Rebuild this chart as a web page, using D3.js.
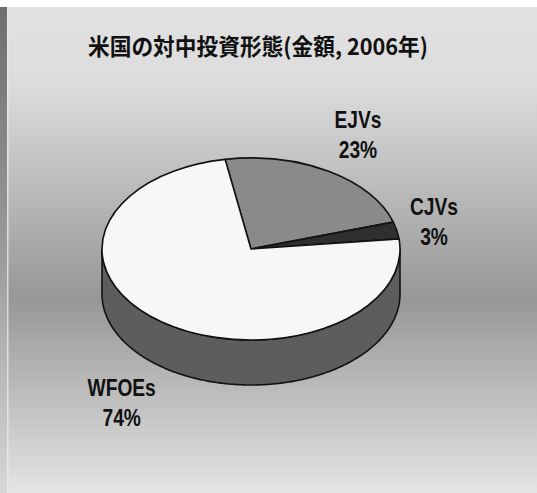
<!DOCTYPE html>
<html>
<head>
<meta charset="utf-8">
<script src="https://cdn.jsdelivr.net/npm/d3@7"></script>
<style>
  html, body { margin: 0; padding: 0; background: #ffffff; }
  svg { display: block; }
</style>
</head>
<body>
<svg id="chart" width="537" height="493"></svg>
<script>
// Investment form shares (by amount, 2006)
const title = "米国の対中投資形態(金額, 2006年)";
const categories = ["EJVs", "CJVs", "WFOEs"];
const shares = [23, 3, 74];

const W = 537, H = 493;
const frameTop = 7, stripW = 7;
const cx = 251, cy = 249;        // centre of the pie's top face
const rx = 149, ry = 91;         // ellipse radii of the tilted disc
const depth = 45;                // thickness of the disc
const startDeg = -10;            // first slice begins just left of 12 o'clock
const labelRadius = 1.22;        // label anchor, as a fraction of the radius
const labelRight = 458;          // labels are kept inside the plot area
const condense = 0.8;            // horizontal squeeze of the label font

const topColor = d3.scaleOrdinal(categories, ["#8a8a8a", "#2f2f2f", "#f7f7f7"]);
const sideColor = d3.scaleOrdinal(categories, ["#555555", "#1e1e1e", "#5d5d5d"]);
const edge = "#121212";

const svg = d3.select("#chart");
const defs = svg.append("defs");

// vertical background gradient of the chart area
const bg = defs.append("linearGradient").attr("id", "bg")
  .attr("x1", 0).attr("y1", 0).attr("x2", 0).attr("y2", 1);
[[0, "#e2e2e2"], [0.16, "#dcdcdc"], [0.6, "#979797"], [1, "#e4e4e4"]]
  .forEach(([o, c]) => bg.append("stop").attr("offset", o).attr("stop-color", c));

const strip = defs.append("linearGradient").attr("id", "strip")
  .attr("x1", 0).attr("y1", 0).attr("x2", 0).attr("y2", 1);
[[0, "#6e6e6e"], [0.5, "#9a9a9a"], [1, "#d6d6d6"]]
  .forEach(([o, c]) => strip.append("stop").attr("offset", o).attr("stop-color", c));

svg.append("rect").attr("x", 0).attr("y", frameTop)
  .attr("width", W).attr("height", H - frameTop).attr("fill", "url(#bg)");
svg.append("rect").attr("x", 0).attr("y", frameTop)
  .attr("width", stripW).attr("height", H - frameTop).attr("fill", "url(#strip)");
svg.append("rect").attr("x", stripW).attr("y", frameTop)
  .attr("width", 1.5).attr("height", H - frameTop).attr("fill", "#ebebeb").attr("opacity", 0.8);

// title
svg.append("text")
  .attr("x", 258).attr("y", 45)
  .attr("text-anchor", "middle")
  .attr("dominant-baseline", "central")
  .attr("font-family", "'Noto Sans CJK JP', sans-serif")
  .attr("font-weight", 700)
  .attr("font-size", 23)
  .attr("textLength", 340)
  .attr("lengthAdjust", "spacingAndGlyphs")
  .attr("fill", "#111")
  .text(title);

const data = categories.map((name, i) => ({ name, value: shares[i] }));
const a0 = startDeg * Math.PI / 180;
const arcs = d3.pie().sort(null).value(d => d.value)
  .startAngle(a0).endAngle(a0 + 2 * Math.PI)(data);

const px = a => cx + rx * Math.sin(a);
const py = a => cy - ry * Math.cos(a);

// front wall: only the part of the rim facing the viewer (cos a < 0)
const side = svg.append("g");
const wall = d3.area().x(a => px(a)).y0(a => py(a)).y1(a => py(a) + depth);
arcs.forEach(s => {
  [-2 * Math.PI, 0, 2 * Math.PI].forEach(shift => {
    const lo = Math.max(s.startAngle, Math.PI / 2 + shift);
    const hi = Math.min(s.endAngle, 3 * Math.PI / 2 + shift);
    if (hi <= lo) return;
    const n = Math.max(2, Math.ceil((hi - lo) / 0.01));
    const pts = d3.range(n + 1).map(i => lo + (hi - lo) * i / n);
    side.append("path")
      .attr("d", wall(pts))
      .attr("fill", sideColor(s.data.name))
      .attr("stroke", edge).attr("stroke-width", 1.6)
      .attr("stroke-linejoin", "round");
  });
});

// top faces
const arc = d3.arc().innerRadius(0).outerRadius(rx);
svg.append("g")
  .attr("transform", `translate(${cx},${cy}) scale(1,${ry / rx})`)
  .selectAll("path")
  .data(arcs)
  .join("path")
  .attr("d", arc)
  .attr("fill", d => topColor(d.data.name))
  .attr("stroke", edge).attr("stroke-width", 1.6)
  .attr("stroke-linejoin", "round")
  .attr("vector-effect", "non-scaling-stroke");

// data labels: name and percentage, placed outside each slice
const blockH = 48;
arcs.forEach(s => {
  const mid = (s.startAngle + s.endAngle) / 2;
  const sn = Math.sin(mid), cs = Math.cos(mid);
  const g = svg.append("g");
  const inner = g.append("g").attr("transform", `scale(${condense},1)`);
  const lines = [s.data.name, `${s.data.value}%`];
  const texts = lines.map((t, i) => inner.append("text")
    .attr("x", 0).attr("y", i === 0 ? -6 : 24)
    .attr("text-anchor", "middle")
    .attr("font-family", "'Liberation Sans', Arial, sans-serif")
    .attr("font-weight", 700)
    .attr("font-size", 24)
    .attr("fill", "#111")
    .text(t));
  const w = d3.max(texts, t => t.node().getComputedTextLength()) * condense;
  let x = cx + labelRadius * rx * sn + sn * w / 2;
  let y = cy - labelRadius * ry * cs + (cs < 0 ? depth : 0) - cs * blockH / 2;
  x = Math.min(x, labelRight - w / 2);
  g.attr("transform", `translate(${x},${y})`);
});
</script>
</body>
</html>
